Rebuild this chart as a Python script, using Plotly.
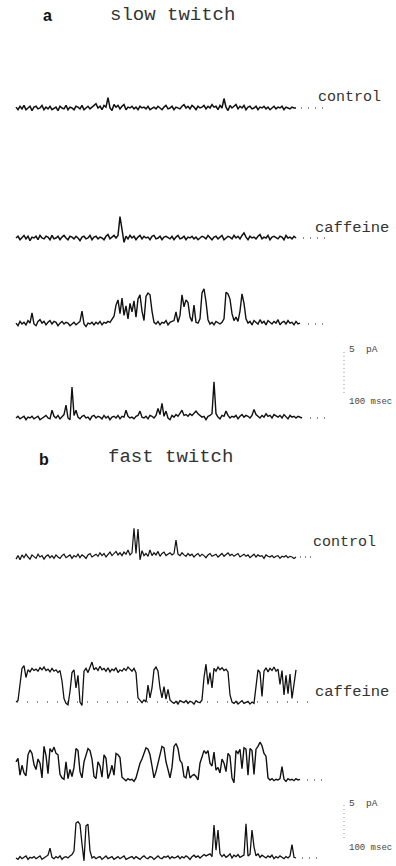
import numpy as np
import plotly.graph_objects as go

W, H = 396, 866
DT_MS = 10.0
MS_PER_PX = 5.0       # horizontal scale of the figure
T0_PX = 16            # pixel where t = 0 sits

# ---------------- data (current in pA, one sample every DT_MS) ----------------
slow_control = [
    0.1, -0.2, 0.2, -0.1, 0.3, -0.2, 0.0, 0.2, -0.3, 0.1,
    0.2, -0.1, 0.0, 0.3, -0.2, 0.1, -0.1, 0.2, -0.2, 0.0,
    0.1, -0.3, 0.2, 0.0, -0.1, 0.3, -0.2, 0.1, 0.0, -0.2,
    0.2, 0.1, -0.1, 0.3, -0.2, 0.0, 0.2, -0.1, 0.1, 0.3,
    0.5, 0.0, 0.2, -0.2, 0.3, 0.1, 1.2, 0.0, -0.3, 0.4,
    0.1, 0.3, -0.1, 0.2, 0.4, -0.2, 0.1, 0.0, 0.2, -0.1,
    0.1, -0.2, 0.2, 0.0, 0.1, -0.1, 0.2, -0.2, 0.0, 0.1,
    -0.1, 0.2, 0.0, -0.2, 0.1, 0.3, -0.1, 0.0, 0.2, -0.2,
    0.1, 0.0, -0.1, 0.2, 0.4, 0.0, 0.2, -0.1, 0.3, 0.1,
    -0.2, 0.2, 0.0, 0.1, 0.3, -0.1, 0.2, 0.0, 0.4, 0.1,
    0.2, -0.2, 0.3, 0.0, 1.1, 0.1, -0.3, 0.3, 0.0, 0.2,
    0.4, -0.1, 0.2, 0.0, 0.3, -0.2, 0.1, 0.2, -0.1, 0.0,
    0.2, -0.2, 0.1, 0.0, 0.2, -0.1, 0.1, -0.2, 0.0, 0.2,
    -0.1, 0.1, 0.0, 0.2, -0.2, 0.1, 0.0, -0.1, 0.1, 0.0, 0.0,
]
slow_caffeine_1 = [
    0.0, 0.2, -0.2, 0.1, 0.3, -0.1, 0.2, -0.3, 0.1, 0.0,
    0.2, -0.2, 0.3, 0.0, -0.1, 0.2, 0.1, -0.2, 0.3, -0.1,
    0.0, 0.2, -0.2, 0.1, 0.3, 0.0, -0.2, 0.2, 0.1, -0.1,
    0.2, 0.0, -0.3, 0.1, 0.2, -0.1, 0.0, 0.3, -0.2, 0.1,
    0.2, -0.1, 0.1, 0.0, -0.2, 0.2, 0.4, -0.1, 0.1, 0.3,
    0.0, 0.3, 2.5, 1.1, -0.5, 0.2, -0.1, 0.3, 0.0, 0.2,
    -0.2, 0.1, 0.3, -0.1, 0.2, 0.0, 0.1, -0.2, 0.2, 0.3,
    -0.1, 0.0, 0.2, -0.2, 0.1, 0.2, 0.0, -0.1, 0.2, -0.2,
    0.1, 0.3, -0.1, 0.0, 0.2, -0.2, 0.1, 0.0, 0.2, -0.1,
    0.1, -0.2, 0.0, 0.2, 0.1, -0.1, 0.3, 0.0, -0.2, 0.1,
    0.2, -0.1, 0.1, 0.3, -0.2, 0.0, 0.2, 0.1, -0.1, 0.3,
    0.0, 0.2, -0.1, 0.3, 0.6, 0.1, -0.2, 0.2, 0.0, 0.1,
    -0.1, 0.2, 0.4, -0.1, 0.1, 0.0, 0.3, -0.2, 0.1, 0.2,
    0.0, -0.1, 0.2, 0.1, -0.2, 0.3, 0.0, 0.1, -0.1, 0.2, 0.0,
]
slow_caffeine_2 = [
    0.1, -0.2, 0.3, 0.0, 0.2, -0.1, 0.4, 0.1, 1.3, 0.0,
    -0.2, 0.3, 0.5, 0.1, 0.3, -0.1, 0.2, 0.4, 0.0, 0.3,
    0.2, -0.2, 0.1, 0.3, 0.0, 0.2, 0.1, -0.2, 0.0, 0.2,
    -0.1, 0.1, 0.3, 1.5, 0.0, -0.3, 0.1, 0.0, 0.2, -0.1,
    0.2, 0.0, 0.3, -0.1, 0.2, 0.1, 0.3, 0.2, 0.5, 0.9,
    2.2, 2.8, 1.2, 3.0, 1.0, 2.1, 0.6, 2.4, 1.4, 2.7,
    0.8, 2.9, 3.4, 1.5, 0.4, 3.2, 3.6, 3.4, 1.5, 0.2,
    0.0, 0.3, -0.1, 0.2, 0.1, 0.4, -0.1, 0.2, 0.3, 0.4,
    1.4, 0.2, 1.0, 3.4, 2.0, 2.8, 2.5, 0.8, 0.3, 2.2,
    0.2, 0.1, 0.6, 3.6, 4.1, 2.6, 0.5, 0.0, 0.2, -0.1,
    0.3, 0.1, 0.0, 0.2, 0.6, 3.7, 3.5, 2.9, 1.2, 0.4,
    0.8, 0.3, 1.5, 3.5, 2.4, 0.6, 0.1, 0.3, -0.1, 0.4,
    0.2, 0.0, 0.5, 0.1, 0.3, -0.1, 0.4, 0.2, 0.0, 0.3,
    0.1, 0.5, -0.1, 0.2, 0.3, 0.0, 0.4, 0.1, 0.2, -0.1,
    0.3, 0.0, 0.1,
]
slow_caffeine_3 = [
    0.0, 0.2, -0.1, 0.1, 0.2, -0.2, 0.1, 0.0, 0.2, -0.1,
    0.1, 0.2, -0.2, 0.0, 0.1, 0.3, 0.0, -0.1, 0.9, 0.2,
    0.0, 0.3, -0.1, 0.2, 0.4, 1.5, 0.0, -0.2, 3.6, 0.3,
    0.9, 0.1, -0.1, 0.2, 0.3, 0.0, 0.1, -0.2, 0.2, 0.3,
    0.0, 0.2, 0.1, -0.1, 0.3, 0.0, 0.2, -0.2, 0.1, 0.2,
    0.0, 0.3, -0.1, 0.2, 0.1, 0.9, 0.2, 0.0, 0.1, -0.1,
    0.2, 0.3, 0.8, 0.1, 0.0, 0.2, -0.1, 0.3, 0.2, 0.0,
    0.3, 1.1, 0.4, 1.7, 0.2, 0.8, 0.0, -0.2, 0.3, 0.1,
    0.4, 0.2, 0.5, 0.9, 0.3, 0.4, 0.2, 0.5, 0.3, 0.6,
    0.8, 0.5, 0.3, 0.1, 0.2, -0.2, 0.2, 0.3, 0.5, 4.2,
    0.5, 0.1, -0.1, 0.3, 0.2, 0.8, 0.3, 0.0, 0.2, 0.1,
    0.3, -0.1, 0.2, 0.4, 0.1, 0.3, 0.2, 0.0, 0.3, 1.0,
    0.4, 0.2, 0.0, 0.3, 0.1, 0.5, 0.2, 0.3, 0.0, 0.4,
    0.2, 0.1, 0.3, 0.0, 0.4, 0.2, -0.1, 0.3, 0.1, 0.2,
    0.0, 0.2, 0.1, 0.0,
]
fast_control = [
    -0.3, 0.2, -0.4, 0.3, -0.1, 0.4, 0.0, -0.3, 0.3, 0.1,
    -0.2, 0.4, 0.0, 0.2, -0.3, 0.1, 0.3, -0.1, 0.2, -0.2,
    0.3, 0.0, -0.2, 0.2, 0.4, -0.1, 0.1, 0.3, -0.2, 0.2,
    0.0, 0.4, -0.1, 0.3, 0.1, -0.2, 0.3, 0.5, 0.0, 0.2,
    0.4, 0.1, 0.6, 0.2, 0.5, 0.0, 0.3, 0.7, 0.2, 0.5,
    0.8, 0.3, 0.6, 0.2, 0.7, 0.4, 1.0, 0.3, 0.6, 4.1,
    0.5, 4.0, -0.4, 0.9, 0.2, 0.5, 0.1, 1.0, 0.2, 0.6,
    0.3, 0.8, 0.1, 0.5, 0.7, 0.2, 0.4, 0.6, 0.3, 0.5,
    2.4, 0.4, 0.2, 0.6, 0.3, 0.1, 0.5, 0.2, 0.4, 0.0,
    0.3, 0.5, 0.1, 0.4, 0.2, -0.1, 0.3, 0.5, 0.1, 0.3,
    0.4, 0.0, 0.2, 0.5, 0.1, 0.3, 0.6, 0.2, 0.4, 0.1,
    0.3, 0.5, 0.0, 0.2, 0.4, 0.1, 0.3, -0.1, 0.2, 0.4,
    0.0, 0.3, 0.1, 0.2, -0.2, 0.3, 0.1, 0.0, 0.2, -0.1,
    0.1, 0.2, -0.2, 0.1, 0.0, 0.2, -0.1, 0.1, 0.0, -0.2, 0.0,
]
fast_caffeine_1 = [
    0.0, 0.2, 2.5, 4.8, 5.2, 3.5, 4.6, 4.3, 4.8, 4.5,
    4.7, 4.4, 4.9, 4.6, 5.0, 4.5, 4.7, 4.3, 4.8, 4.4,
    4.6, 4.2, 4.5, 3.0, 0.5, -0.2, -0.4, 1.5, 4.2, 4.6,
    2.0, 3.8, 0.0, -0.5, 4.4, 4.8, 4.2, 5.0, 5.7, 4.6,
    4.9, 4.5, 5.1, 4.6, 4.8, 4.4, 4.9, 4.3, 4.7, 4.5,
    4.9, 4.2, 4.6, 4.4, 4.8, 4.5, 5.0, 4.7, 4.4, 4.8,
    4.2, 0.6, 0.2, -0.1, 0.3, 0.0, 2.4, 0.6, 2.0, 4.6,
    5.0, 4.4, 2.0, 0.6, 2.2, 0.4, 1.8, 0.3, 0.0, -0.2,
    0.1, -0.3, 0.2, 0.0, -0.1, 0.2, -0.2, 0.1, 0.0, -0.3,
    0.2, 0.0, -0.1, 0.3, 3.5, 5.4, 2.5, 4.2, 2.0, 4.8,
    4.4, 5.0, 4.6, 4.9, 4.5, 4.7, 4.3, 1.0, 0.0, -0.2,
    0.1, -0.3, 0.0, 0.2, -0.2, -0.1, 0.1, -0.3, 0.0, -0.2,
    2.0, 4.6, 4.2, 0.8, 4.4, 4.9, 4.3, 4.8, 4.5, 5.0,
    4.4, 4.7, 2.5, 4.5, 1.0, 3.8, 1.2, 4.0, 0.5, 2.8, 4.6,
]
fast_caffeine_2 = [
    2.6, 3.1, 0.7, 2.1, 1.0, 0.6, 3.6, 4.3, 3.8, 2.2,
    1.5, 3.0, 2.4, 0.3, 4.8, 3.5, 0.9, 4.5, 4.0, 4.7,
    3.8, 3.6, 0.8, 0.3, 0.1, 2.6, 0.2, 1.5, 0.5, 1.8,
    4.5, 4.2, 1.2, 0.3, 2.6, 3.4, 4.5, 4.2, 3.0, 0.5,
    0.2, 2.6, 2.0, 0.4, 3.6, 3.1, 0.2, 1.0, 2.1, 0.7,
    3.8, 3.6, 3.2, 0.4, 0.1, -0.1, 0.2, 0.0, 0.1, -0.2,
    0.3, 1.5, 2.4, 3.0, 3.8, 4.6, 4.4, 3.6, 2.0, 0.3,
    1.2, 2.4, 3.2, 4.8, 4.6, 2.6, 1.5, 0.3, 1.8, 4.8,
    5.2, 4.5, 2.8, 2.4, 0.5, 0.3, 2.0, 0.3, 0.6, 0.8,
    0.5, 0.0, 2.4, 3.2, 4.2, 3.8, 4.2, 2.4, 2.0, 4.0,
    1.4, 1.8, 1.0, 3.0, 2.4, 1.2, 3.8, 3.4, 0.3, -0.4,
    4.2, 3.8, 4.4, 1.6, 4.6, 4.4, 0.7, 4.5, 4.2, 0.8,
    4.4, 4.8, 5.4, 4.9, 3.8, 3.4, 0.3, 0.0, 0.2, -0.1,
    0.1, 0.0, 0.2, 1.9, 0.1, -0.2, 0.2, 0.0, 0.1, -0.1,
    0.2, 0.0, 0.1,
]
fast_caffeine_3 = [
    0.0, -0.2, 0.2, -0.1, 0.1, 0.3, -0.2, 0.1, 0.0, 0.2,
    -0.1, 0.1, 0.3, -0.2, 0.0, 0.2, 0.4, 1.4, 0.1, -0.1,
    0.2, 0.0, 0.3, -0.2, 0.1, 0.2, 0.0, 0.3, 0.5, 1.0,
    5.0, 5.2, 4.8, 2.0, -0.4, 4.6, 4.8, 1.0, 0.0, 0.2,
    -0.1, 0.1, 0.2, -0.2, 0.0, 0.3, -0.1, 0.1, 0.2, -0.2,
    0.0, 0.2, -0.1, 0.1, 0.3, -0.2, 0.0, 0.1, 0.2, -0.1,
    0.2, 0.0, -0.2, 0.1, 0.3, 0.0, -0.1, 0.2, 0.1, -0.2,
    0.1, 0.3, 0.0, -0.1, 0.2, 0.1, 0.3, -0.1, 0.2, 0.0,
    0.1, 0.3, -0.1, 0.2, 0.0, 0.3, 0.1, -0.2, 0.2, 0.4,
    0.1, 0.3, 0.0, 0.2, 0.5, 0.3, 0.4, 0.6, 0.2, 4.7,
    1.1, 4.0, 0.6, 0.2, 0.5, 0.1, 0.3, 0.6, 0.0, 0.4,
    0.2, 0.5, 0.1, 0.3, 0.4, 4.9, 0.3, 0.5, 4.0, 1.6,
    0.3, 0.6, 0.1, 0.4, 0.2, 0.0, 0.3, 0.1, 0.4, -0.1,
    0.2, 0.0, 0.3, 0.1, -0.1, 0.2, 0.0, 0.3, 1.9, 0.1, 0.0,
]

panel_titles = ["slow twitch", "fast twitch"]
panel_letters = ["a", "b"]
condition_labels = ["control", "caffeine"]
scale_pa = 5
scale_labels = ["5  pA", "100 msec"]

# ---------------- layout of the rows (pixel geometry) ----------------
SLOW_S, FAST_S = 8.6, 7.0   # px per pA
rows = [
    dict(y=slow_control,    base=108, s=SLOW_S, rng=(-1.5, 5), dots=(301, 326), dash="1px,6px", w=1.5),
    dict(y=slow_caffeine_1, base=238, s=SLOW_S, rng=(-1.5, 5), dots=(303, 326), dash="1px,6px", w=1.5),
    dict(y=slow_caffeine_2, base=324, s=SLOW_S, rng=(-1.5, 5), dots=(308, 328), dash="1px,6px", w=1.4),
    dict(y=slow_caffeine_3, base=418, s=SLOW_S, rng=(-1.0, 9), dots=(310, 330), dash="1px,6px", w=1.4),
    dict(y=fast_control,    base=557, s=FAST_S, rng=(-1.5, 6), dots=(300, 312), dash="1px,4px", w=1.2),
    dict(y=fast_caffeine_1, base=702, s=FAST_S, rng=(-1.5, 7), dots=(17, 313), dash="1px,9px", w=1.3),
    dict(y=fast_caffeine_2, base=780, s=FAST_S, rng=(-1.5, 6), dots=(307, 328), dash="1px,6px", w=1.4),
    dict(y=fast_caffeine_3, base=858, s=FAST_S, rng=(-1.0, 9), dots=(302, 322), dash="1px,6px", w=1.3),
]


def px2t(p):
    return (p - T0_PX) * MS_PER_PX


fig = go.Figure()
for k, r in enumerate(rows):
    yname = "y" if k == 0 else f"y{k + 1}"
    lname = "yaxis" if k == 0 else f"yaxis{k + 1}"
    lo, hi = r["rng"]
    top = r["base"] - r["s"] * hi
    bot = r["base"] - r["s"] * lo
    fig.update_layout({lname: dict(domain=[1 - bot / H, 1 - top / H], range=[lo, hi],
                                   visible=False, fixedrange=True, anchor="x")})
    t = np.arange(len(r["y"])) * DT_MS
    # dotted baseline (closed level)
    fig.add_trace(go.Scatter(x=[px2t(r["dots"][0]), px2t(r["dots"][1])], y=[0, 0],
                             mode="lines", xaxis="x", yaxis=yname, hoverinfo="skip",
                             line=dict(color="#666", width=1.4, dash=r["dash"])))
    fig.add_trace(go.Scatter(x=t, y=r["y"], mode="lines", xaxis="x", yaxis=yname,
                             hoverinfo="skip", line=dict(color="#111", width=r["w"])))

# scale bars (5 pA) drawn in the last axis of each panel
for yname, s, bottom_px, base in [("y4", SLOW_S, 393, 418), ("y8", FAST_S, 838, 858)]:
    y0 = (base - bottom_px) / s
    fig.add_trace(go.Scatter(x=[px2t(344), px2t(344)], y=[y0, y0 + scale_pa], mode="lines",
                             xaxis="x", yaxis=yname, hoverinfo="skip",
                             line=dict(color="#999", width=1, dash="1px,3px")))

fig.update_layout(
    width=W, height=H, margin=dict(l=0, r=0, t=0, b=0),
    paper_bgcolor="white", plot_bgcolor="white", showlegend=False,
    xaxis=dict(range=[px2t(0), px2t(W)], visible=False, fixedrange=True, domain=[0, 1]),
)


def ann(text, xp, yp, size, family="Liberation Mono", color="#333", xanchor="left", bold=False):
    fig.add_annotation(text=f"<b>{text}</b>" if bold else text, x=xp / W, y=1 - yp / H,
                       xref="paper", yref="paper", showarrow=False, xanchor=xanchor,
                       yanchor="middle", font=dict(family=family, size=size, color=color))


# panel letters & titles
ann(panel_letters[0], 47, 16, 16, family="Liberation Sans", color="#111", xanchor="center", bold=True)
ann(panel_titles[0], 108, 15, 19)
ann(panel_letters[1], 44, 459, 16, family="Liberation Sans", color="#111", xanchor="center", bold=True)
ann(panel_titles[1], 106, 457, 19)

# condition labels
ann(condition_labels[0], 316, 98, 15)
ann(condition_labels[1], 313, 228, 15.5)
ann(condition_labels[0], 311, 542, 15)
ann(condition_labels[1], 313, 692, 15.5)

# scale bar labels
for ytxt, ymsec in [(349, 402), (803, 848)]:
    ann(scale_labels[0], 347, ytxt, 9.5, color="#444")
    ann(scale_labels[1], 347, ymsec, 9, color="#444")

fig.write_html("out.html")
